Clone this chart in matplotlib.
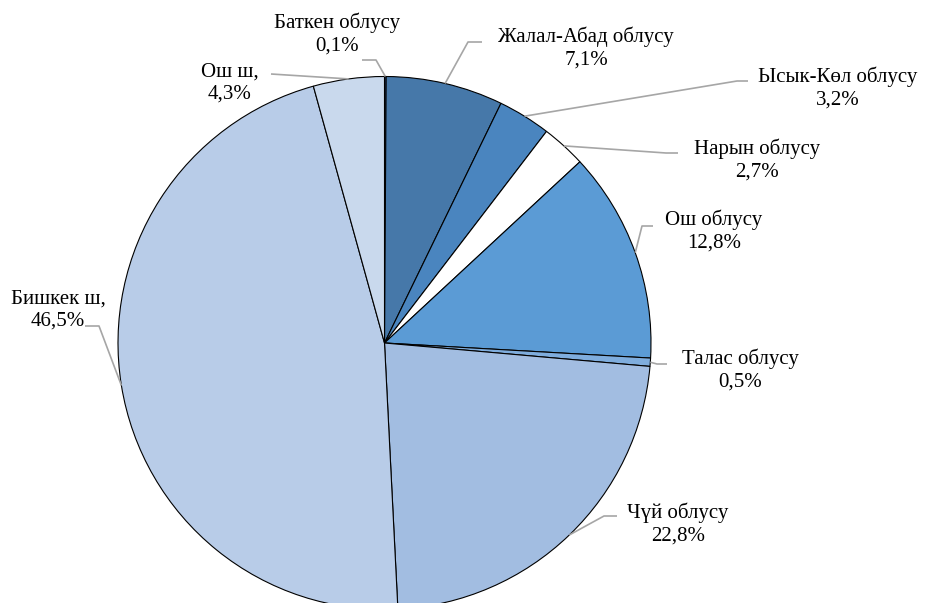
import numpy as np
import matplotlib
matplotlib.use("Agg")
import matplotlib.pyplot as plt

plt.rcParams["font.family"] = ["Liberation Serif", "DejaVu Serif"]

regions = ["Баткен облусу", "Жалал-Абад облусу", "Ысык-Көл облусу", "Нарын облусу",
           "Ош облусу", "Талас облусу", "Чүй облусу", "Бишкек ш.", "Ош ш."]
shares = [0.1, 7.1, 3.2, 2.7, 12.8, 0.5, 22.8, 46.5, 4.3]
colors = ["#2F5597", "#4678A9", "#4A85BF", "#FFFFFF", "#5B9BD5",
          "#7FADDD", "#A2BDE1", "#B8CCE8", "#C9D9ED"]

# layout (pixel coords from top-left): label centre, elbow point, end of leader
label_xy = [(337, 34), (586, 48), (838, 88), (757, 160), (714, 231),
            (740, 370), (678, 524), (58, 310), (230, 83)]
elbow_xy = [(376, 60), (468, 42), (737, 81), (666, 153), (642, 226),
            (657, 364), (604, 516), (99, 326), (271, 74)]
end_xy = [(362, 60), (482, 42), (748, 81), (678, 153), (653, 226),
          (667, 364), (617, 516), (85, 326), (271, 74)]

W, H = 926, 603
CX, CY, R = 384.5, H - 343, 266.5

fig = plt.figure(figsize=(W / 100, H / 100), dpi=100)
ax = fig.add_axes([0, 0, 1, 1])
wedges, _ = ax.pie(shares, colors=colors, startangle=90, counterclock=False,
                   center=(CX, CY), radius=R,
                   wedgeprops=dict(edgecolor="black", linewidth=0.8))
ax.set_xlim(0, W)
ax.set_ylim(0, H)
ax.set_aspect("equal")
ax.axis("off")

for w, name, val, lxy, exy, txy in zip(wedges, regions, shares, label_xy, elbow_xy, end_xy):
    ang = np.deg2rad((w.theta1 + w.theta2) / 2)
    sx, sy = CX + R * np.cos(ang), CY + R * np.sin(ang)
    ax.plot([sx, exy[0], txy[0]], [sy, H - exy[1], H - txy[1]],
            color="#A6A6A6", linewidth=1.2, solid_capstyle="butt")
    ax.text(lxy[0], H - lxy[1], f"{name}\n{val:.1f}%".replace(".", ","),
            ha="center", va="center", fontsize=15, linespacing=1.2, color="black")

fig.savefig("out.png", dpi=100)
